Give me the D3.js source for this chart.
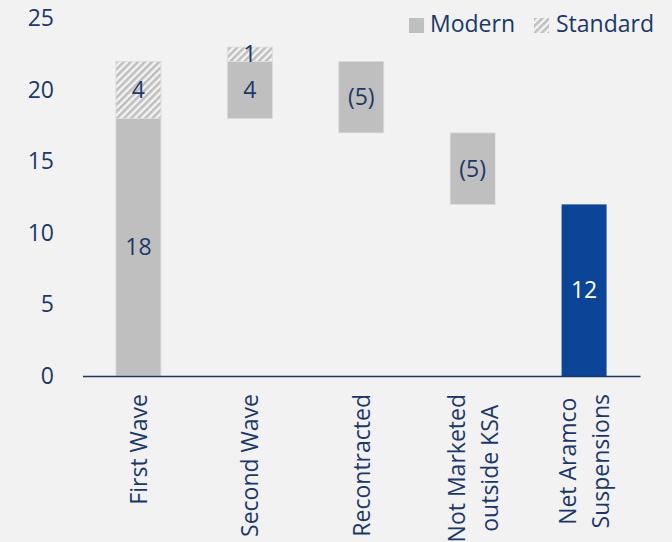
<!DOCTYPE html>
<html>
<head>
<meta charset="utf-8">
<script src="https://cdn.jsdelivr.net/npm/d3@7"></script>
<style>
  html, body { margin: 0; padding: 0; background: #f2f2f2; }
  svg { display: block; }
  text { font-family: "Open Sans", sans-serif; }
</style>
</head>
<body>
<svg id="chart" width="672" height="542"></svg>
<script>
// Categories (with their wrapped label lines) and the two stacked series.
const categories = ["First Wave", "Second Wave", "Recontracted", "Not Marketed outside KSA", "Net Aramco Suspensions"];
const categoryLines = [["First Wave"], ["Second Wave"], ["Recontracted"], ["Not Marketed", "outside KSA"], ["Net Aramco", "Suspensions"]];
const modern = [18, 4, -5, -5, 12];
const standard = [4, 1, 0, 0, 0];
const isTotal = [false, false, false, false, true];
const yTicks = [0, 5, 10, 15, 20, 25];
const seriesNames = ["Modern", "Standard"];

const ink = "#1b3868";
const grey = "#bfbfbf";
const navy = "#0c4597";
const fontSize = 23;

const svg = d3.select("#chart");

// Hatched fill for the Standard series
const defs = svg.append("defs");
const pat = defs.append("pattern")
  .attr("id", "hatch")
  .attr("patternUnits", "userSpaceOnUse")
  .attr("width", 5).attr("height", 5)
  .attr("patternTransform", "rotate(45)");
pat.append("rect").attr("width", 5).attr("height", 5).attr("fill", "#f4f4f4");
pat.append("rect").attr("x", 0).attr("width", 2.6).attr("height", 5).attr("fill", grey);

const x = d3.scaleBand()
  .domain(categories)
  .range([82.5, 640])
  .paddingInner(0.596)
  .paddingOuter(0.3);

const y = d3.scaleLinear().domain([0, 25]).range([376, 18.5]);

// Waterfall segments: modern values run cumulatively, standard sits on top
const segments = [];
let running = 0;
categories.forEach((c, i) => {
  let lo, hi;
  if (isTotal[i]) {
    lo = 0; hi = modern[i];
    running = modern[i];
  } else {
    lo = Math.min(running, running + modern[i]);
    hi = Math.max(running, running + modern[i]);
    running += modern[i];
  }
  segments.push({cat: c, series: "Modern", lo, hi, value: modern[i], total: isTotal[i]});
  if (standard[i] > 0) {
    segments.push({cat: c, series: "Standard", lo: hi, hi: hi + standard[i], value: standard[i], total: false});
  }
});

const fmt = v => v < 0 ? "(" + Math.abs(v) + ")" : String(v);

const bars = svg.append("g");
bars.selectAll("rect").data(segments).join("rect")
  .attr("x", d => x(d.cat))
  .attr("width", x.bandwidth())
  .attr("y", d => y(d.hi))
  .attr("height", d => y(d.lo) - y(d.hi))
  .attr("fill", d => d.total ? navy : (d.series === "Standard" ? "url(#hatch)" : grey))
  .attr("stroke", d => d.total ? "none" : "#dcdcdc")
  .attr("stroke-width", 0.8);

svg.append("g").selectAll("text").data(segments).join("text")
  .attr("x", d => x(d.cat) + x.bandwidth() / 2)
  .attr("y", d => y((d.lo + d.hi) / 2))
  .attr("dy", "0.35em")
  .attr("text-anchor", "middle")
  .attr("font-size", fontSize)
  .attr("fill", d => d.total ? "#ffffff" : ink)
  .text(d => fmt(d.value));

// Y axis: labels only
const yAxis = svg.append("g")
  .attr("transform", "translate(62,0)")
  .call(d3.axisLeft(y).tickValues(yTicks).tickSize(0).tickPadding(8));
yAxis.select(".domain").remove();
yAxis.selectAll("text").attr("font-size", fontSize).attr("fill", ink).attr("font-family", "Open Sans, sans-serif");

// X axis baseline
const xAxis = svg.append("g")
  .attr("transform", "translate(0," + y(0) + ")")
  .call(d3.axisBottom(x).tickSize(0).tickFormat(""));
xAxis.select(".domain").attr("stroke", ink).attr("stroke-width", 1.6);

// Rotated category labels
const lineGap = 33;
const labels = svg.append("g").selectAll("g").data(categories).join("g")
  .attr("transform", c => "translate(" + (x(c) + x.bandwidth() / 2) + ",394) rotate(-90)");
labels.each(function(c, i) {
  const g = d3.select(this);
  const lines = categoryLines[i];
  const ts = lines.map((t, k) => g.append("text")
    .attr("text-anchor", "middle")
    .attr("font-size", fontSize)
    .attr("fill", ink)
    .attr("y", (k - (lines.length - 1) / 2) * lineGap + 8.5)
    .text(t));
  const maxLen = d3.max(ts, t => t.node().getComputedTextLength());
  ts.forEach(t => t.attr("x", -maxLen / 2));
});

// Legend
const legend = svg.append("g");
const legendItems = [{name: seriesNames[0], fill: grey, sx: 409, tx: 430},
                     {name: seriesNames[1], fill: "url(#hatch)", sx: 534, tx: 556}];
legend.selectAll("rect").data(legendItems).join("rect")
  .attr("x", d => d.sx).attr("y", 18).attr("width", 15).attr("height", 15)
  .attr("fill", d => d.fill);
legend.selectAll("text").data(legendItems).join("text")
  .attr("x", d => d.tx).attr("y", 32)
  .attr("font-size", fontSize).attr("fill", ink)
  .text(d => d.name);
</script>
</body>
</html>
